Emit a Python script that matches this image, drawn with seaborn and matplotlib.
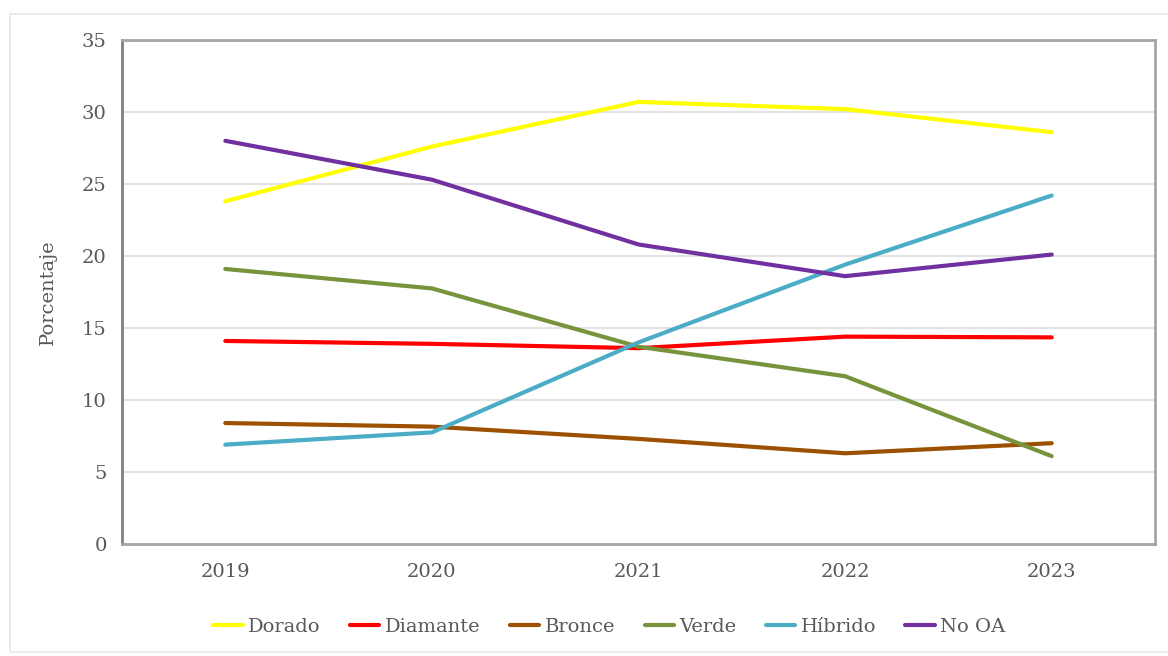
import matplotlib
matplotlib.use("Agg")
import matplotlib.pyplot as plt
import seaborn as sns
import pandas as pd
from matplotlib.patches import Rectangle

years = ["2019", "2020", "2021", "2022", "2023"]
dorado = [23.8, 27.6, 30.7, 30.2, 28.6]
diamante = [14.1, 13.9, 13.6, 14.4, 14.35]
bronce = [8.4, 8.15, 7.3, 6.3, 7.0]
verde = [19.1, 17.75, 13.7, 11.65, 6.1]
hibrido = [6.9, 7.75, 14.0, 19.4, 24.2]
no_oa = [28.0, 25.3, 20.8, 18.6, 20.1]

series_names = ["Dorado", "Diamante", "Bronce", "Verde", "Híbrido", "No OA"]
series_vals = [dorado, diamante, bronce, verde, hibrido, no_oa]
colors = ["#FFFF00", "#FF0000", "#9C5000", "#77933C", "#4BACC6", "#7030A0"]

rows = []
for name, vals in zip(series_names, series_vals):
    for i, (y, v) in enumerate(zip(years, vals)):
        rows.append({"idx": i, "Año": y, "Serie": name, "Porcentaje": v})
df = pd.DataFrame(rows)

sns.set_theme(style="white")
plt.rcParams["font.family"] = ["DejaVu Serif"]

fig = plt.figure(figsize=(11.68, 6.56), dpi=100)
ax = fig.add_axes([122/1168, 1-544/656, (1155-122)/1168, (544-40)/656])

sns.lineplot(data=df, x="idx", y="Porcentaje", hue="Serie", hue_order=series_names,
             palette=colors, linewidth=3, ax=ax, legend=True)

ax.set_xlim(-0.5, 4.5)
ax.set_ylim(0, 35)
ax.set_yticks(range(0, 36, 5))
ax.set_xticks(range(len(years)))
ax.set_xticklabels(years)
ax.tick_params(axis="both", length=0, labelsize=14, labelcolor="#595959")
ax.tick_params(axis="y", pad=11)
ax.tick_params(axis="x", pad=14)
ax.yaxis.grid(True, color="#E3E3E3", linewidth=1.5)
ax.set_axisbelow(True)
ax.set_xlabel("")
ax.set_ylabel("Porcentaje", fontsize=14, color="#595959", labelpad=18)

for side, col in [("left", "#808080"), ("bottom", "#A6A6A6"), ("top", "#A6A6A6"), ("right", "#A6A6A6")]:
    ax.spines[side].set_visible(True)
    ax.spines[side].set_color(col)
    ax.spines[side].set_linewidth(2)

handles, labels = ax.get_legend_handles_labels()
ax.legend(handles, labels, loc="center", bbox_to_anchor=(0.472, -0.165), ncol=6,
          frameon=False, fontsize=14, handlelength=1.5, columnspacing=1.5,
          handletextpad=0.3, labelcolor="#595959")

fig.patches.append(Rectangle((10/1168, 4/656), 1, 1-18/656, transform=fig.transFigure,
                             fill=False, edgecolor="#E8E8E8", linewidth=1.2))

fig.savefig("out.png", dpi=100)
